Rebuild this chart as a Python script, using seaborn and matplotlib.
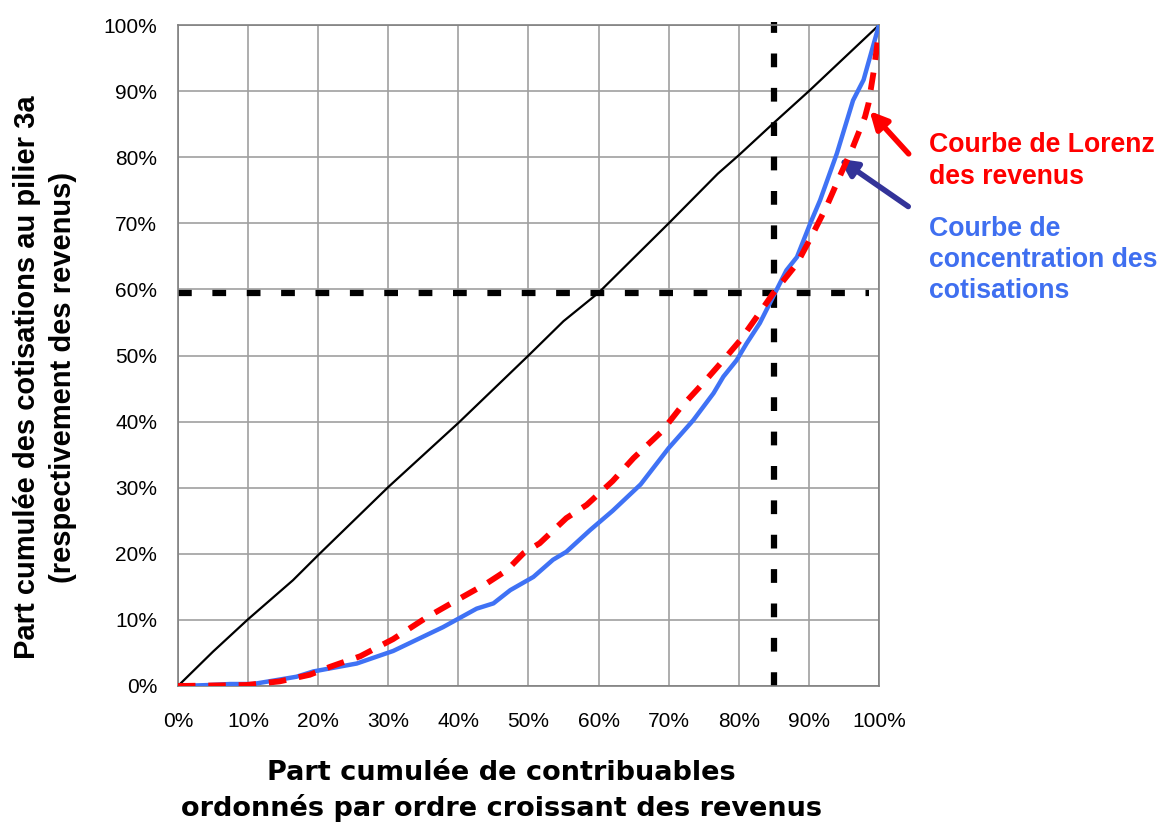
import pandas as pd
import matplotlib.pyplot as plt
import seaborn as sns
import numpy as np

# cumulative share of taxpayers (%) and cumulative share (%) for each curve
x_eq = [0, 5, 10, 16.4, 20, 30, 40, 50, 55, 60, 70, 77, 80, 85, 90, 95, 100]
y_eq = [0, 5.2, 10.1, 16.0, 19.8, 30.1, 39.8, 50.0, 55.2, 59.5, 70.0, 77.5, 80.3, 85.2, 90.0, 95.0, 100]

x_conc = [0, 4.6, 7.4, 10.7, 16.9, 19.3, 25.5, 30.7, 37.8, 42.6, 45.0, 47.4, 50.7, 53.5, 55.4,
          58.8, 62, 66, 70, 73.5, 76.4, 77.8, 79.7, 81.1, 83.0, 84.9, 86.8, 88.3, 90.2, 91.6,
          94.0, 96.3, 97.8, 100]
y_conc = [0, 0.15, 0.3, 0.3, 1.4, 2.2, 3.4, 5.3, 8.9, 11.7, 12.5, 14.5, 16.5, 19.1, 20.3,
          23.6, 26.5, 30.5, 36.0, 40.2, 44.3, 46.8, 49.3, 51.8, 54.9, 58.9, 62.9, 64.9, 70.0, 73.5,
          80.6, 88.6, 91.7, 100]

x_lor = [0, 9.8, 14.5, 18.8, 21.7, 26, 30.7, 35.5, 39.8, 44.0, 46.9, 49.3, 51.6, 55.4, 58.3,
         62, 65, 69, 71.6, 74.9, 77.8, 80.2, 82.6, 84.9, 88.3, 90.6, 92.5, 94.4, 96.3, 98.0,
         98.5, 99.2, 99.9]
y_lor = [0, 0.15, 0.7, 1.7, 2.9, 4.5, 7.1, 10.4, 13.0, 15.5, 17.5, 20.1, 21.6, 25.4, 27.4,
         31.0, 34.5, 38.5, 42.0, 45.8, 49.3, 52.3, 55.9, 59.4, 63.9, 68.5, 72.5, 77.1, 81.6, 86.1,
         88.1, 92.7, 98.2]

x_ref = 85
y_ref = 59.5

x_ticks = list(range(0, 101, 10))
y_ticks = list(range(0, 101, 10))

df = pd.concat([
    pd.DataFrame({'x': x_eq, 'y': y_eq, 'courbe': 'egalite'}),
    pd.DataFrame({'x': x_lor, 'y': y_lor, 'courbe': 'lorenz'}),
    pd.DataFrame({'x': x_conc, 'y': y_conc, 'courbe': 'concentration'}),
])

sns.set_style('white')
plt.rcParams['font.family'] = ['Liberation Sans', 'DejaVu Sans']
plt.rcParams['text.color'] = 'black'
plt.rcParams['xtick.color'] = 'black'
plt.rcParams['ytick.color'] = 'black'

fig = plt.figure(figsize=(11.61, 8.26), dpi=100)
ax = fig.add_axes([0.1533, 0.1695, 0.6038, 0.8002])

grid_col = '#a0a0a0'
for v in x_ticks:
    ax.axvline(v, color=grid_col, lw=1.2, zorder=0)
for v in y_ticks:
    ax.axhline(v, color=grid_col, lw=1.2, zorder=0)

# reference lines
ax.plot([0, 98.6], [y_ref, y_ref], color='black', lw=4.5, dashes=(2.2, 3.3), zorder=2)
ax.plot([x_ref, x_ref], [0, 100.5], color='black', lw=4.5, dashes=(2.2, 3.3), zorder=2,
        clip_on=False)

sns.lineplot(data=df[df.courbe == 'egalite'], x='x', y='y', color='black', lw=1.6,
             sort=False, estimator=None, ax=ax, zorder=3)
sns.lineplot(data=df[df.courbe == 'concentration'], x='x', y='y', color='#3f72f5', lw=3.2,
             sort=False, estimator=None, ax=ax, zorder=4)
sns.lineplot(data=df[df.courbe == 'lorenz'], x='x', y='y', color='#ff0000', lw=4.2,
             sort=False, estimator=None, ax=ax, zorder=5, dashes=False)
ax.lines[-1].set_dashes((3.0, 2.2))

ax.set_xlim(0, 100)
ax.set_ylim(0, 100)
ax.set_xticks(x_ticks)
ax.set_yticks(y_ticks)
ax.set_xticklabels([f'{v}%' for v in x_ticks], fontsize=15)
ax.set_yticklabels([f'{v}%' for v in y_ticks], fontsize=15)
ax.tick_params(axis='x', length=0, pad=19)
ax.tick_params(axis='y', length=0, pad=15)
for s in ax.spines.values():
    s.set_color('#808080')
    s.set_linewidth(1.2)
ax.set_xlabel('')
ax.set_ylabel('')

fig.text(501 / 1161, 1 - 791 / 826,
         'Part cumulée de contribuables\nordonnés par ordre croissant des revenus',
         ha='center', va='center', fontsize=19.5, fontweight='bold', linespacing=1.4,
         family=['DejaVu Sans'])
fig.text(45 / 1161, 1 - 377 / 826,
         'Part cumulée des cotisations au pilier 3a\n(respectivement des revenus)',
         ha='center', va='center', rotation=90, fontsize=21, fontweight='bold',
         linespacing=1.4)

ax.annotate('', xy=(98.4, 87.3), xytext=(104.5, 80.2), xycoords='data',
            arrowprops=dict(arrowstyle='-|>', color='#ff0000', lw=4, mutation_scale=26),
            annotation_clip=False)
ax.annotate('', xy=(94.0, 80.0), xytext=(104.5, 72.3), xycoords='data',
            arrowprops=dict(arrowstyle='-|>', color='#333399', lw=4, mutation_scale=26),
            annotation_clip=False)

fig.text(929 / 1161, 1 - 161 / 826, 'Courbe de Lorenz\ndes revenus', color='#ff0000',
         ha='left', va='center', fontsize=19.2, fontweight='bold', linespacing=1.3)
fig.text(929 / 1161, 1 - 260 / 826, 'Courbe de\nconcentration des\ncotisations',
         color='#3f6ff0', ha='left', va='center', fontsize=19.2, fontweight='bold',
         linespacing=1.25)

fig.savefig('out.png', dpi=100)
